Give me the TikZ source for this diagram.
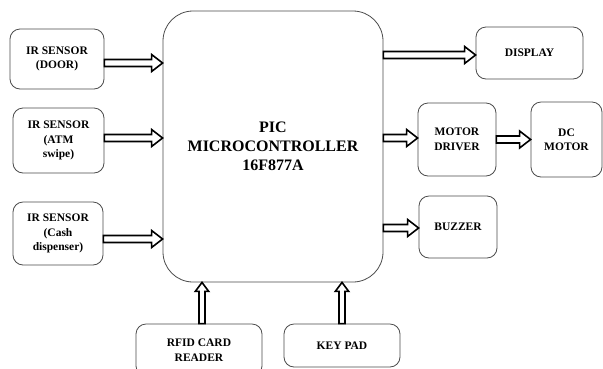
\documentclass[tikz,border=0pt]{standalone}
\usepackage{fontspec}
\setmainfont{Liberation Serif}
\usetikzlibrary{calc}
\tikzset{
  blk/.style={draw=black!70, line width=0.8pt, rounded corners=10pt, align=center,
    font=\fontsize{11.5}{14.5}\selectfont\bfseries, inner sep=0pt},
  fat/.style={draw=black, line width=1.6pt, fill=white, line join=miter},
}
% horizontal fat arrow: from #1 (x and y) to x of #2
\newcommand\arrR[2]{\draw[fat] let \p1=(#1), \p2=(#2) in
  (\x1,{\y1+3.5pt}) -- ({\x2-11pt},{\y1+3.5pt}) -- ({\x2-11pt},{\y1+8.5pt}) -- (\x2,\y1)
  -- ({\x2-11pt},{\y1-8.5pt}) -- ({\x2-11pt},{\y1-3.5pt}) -- (\x1,{\y1-3.5pt}) -- cycle;}
% upward fat arrow: from #1 (x and y) up to y of #2
\newcommand\arrU[2]{\draw[fat] let \p1=(#1), \p2=(#2) in
  ({\x1-3pt},\y1) -- ({\x1-3pt},{\y2-9pt}) -- ({\x1-6.7pt},{\y2-9pt}) -- (\x1,\y2)
  -- ({\x1+6.7pt},{\y2-9pt}) -- ({\x1+3pt},{\y2-9pt}) -- ({\x1+3pt},\y1) -- cycle;}
\begin{document}
\begin{tikzpicture}[x=1pt,y=-1pt]
\useasboundingbox (0,0) rectangle (603,368);
\fill[white] (0,0) rectangle (603,368);
\clip (0,0) rectangle (603,368);

\node[blk, rounded corners=30pt, minimum width=220pt, minimum height=271pt,
  font=\fontsize{16}{19}\selectfont\bfseries] (main) at (273,146.5)
  {PIC\\MICROCONTROLLER\\16F877A};

\node[blk, minimum width=94pt, minimum height=60pt] (door) at (57,59) {IR SENSOR\\(DOOR)};
\node[blk, minimum width=91pt, minimum height=65pt] (atm) at (58.5,140.5) {IR SENSOR\\(ATM\\swipe)};
\node[blk, minimum width=90pt, minimum height=63pt] (cash) at (58,233.5) {IR SENSOR\\(Cash\\dispenser)};

\node[blk, minimum width=107pt, minimum height=52pt] (disp) at (529.5,53) {DISPLAY};
\node[blk, minimum width=78pt, minimum height=73pt] (mdrv) at (457,139.5) {MOTOR\\DRIVER};
\node[blk, minimum width=71pt, minimum height=75pt] (dcm) at (566.5,139.5) {DC\\MOTOR};
\node[blk, minimum width=78pt, minimum height=62pt] (buzz) at (458,227) {BUZZER};

\node[blk, minimum width=126pt, minimum height=52pt] (rfid) at (199,350) {RFID CARD\\READER};
\node[blk, minimum width=116pt, minimum height=43pt] (key) at (342,345.5) {KEY PAD};

\coordinate (sDoor) at ($(door.east)+(0,-4pt)$);
\coordinate (sAtm) at ($(atm.east)+(0,2.5pt)$);
\coordinate (sCash) at ($(cash.east)+(0,-5.5pt)$);
\coordinate (sDisp) at ($(main.east |- disp.west)+(0,-2pt)$);
\coordinate (sMdrv) at ($(main.east |- mdrv.west)+(0,1.5pt)$);
\coordinate (sBuzz) at ($(main.east |- buzz.west)+(0,-1pt)$);
\coordinate (sRfid) at ($(rfid.north)+(3pt,0)$);

\arrR{sDoor}{main.west}
\arrR{sAtm}{main.west}
\arrR{sCash}{main.west}
\arrR{sDisp}{disp.west}
\arrR{sMdrv}{mdrv.west}
\arrR{mdrv.east}{dcm.west}
\arrR{sBuzz}{buzz.west}
\arrU{sRfid}{main.south}
\arrU{key.north}{main.south}
\end{tikzpicture}
\end{document}
